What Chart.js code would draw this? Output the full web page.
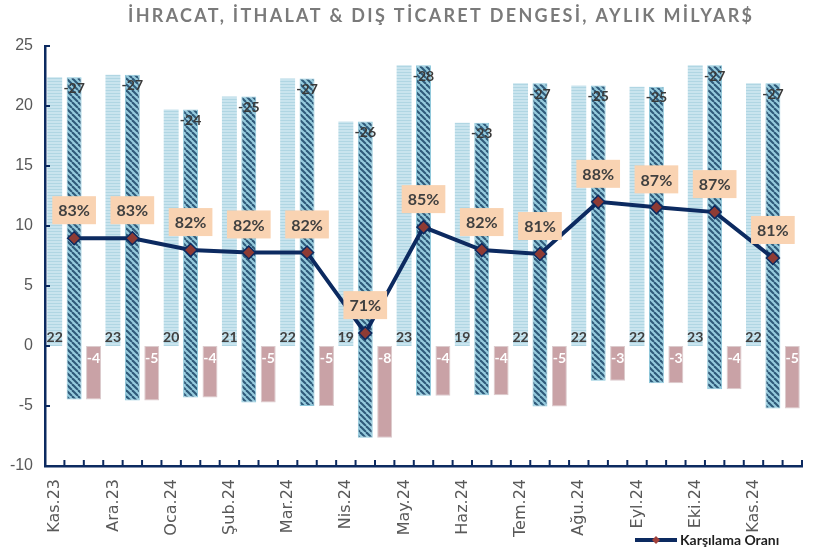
<!DOCTYPE html>
<html lang="tr">
<head>
<meta charset="utf-8">
<script src="https://cdn.jsdelivr.net/npm/chart.js@4/dist/chart.umd.min.js"></script>
<style>
html,body{margin:0;padding:0;background:#fff;}
#wrap{width:817px;height:550px;position:relative;}
</style>
</head>
<body>
<div id="wrap"><canvas id="myChart"></canvas></div>
<script>
// aylar
const months=["Kas.23","Ara.23","Oca.24","Şub.24","Mar.24","Nis.24","May.24","Haz.24","Tem.24","Ağu.24","Eyl.24","Eki.24","Kas.24"];
// milyar $
const exports=[22.4,22.6,19.7,20.8,22.3,18.7,23.4,18.6,21.9,21.7,21.6,23.4,21.9];
const imports=[-26.9,-27.1,-24.0,-25.4,-27.3,-26.3,-27.6,-22.7,-27.0,-24.6,-24.7,-27.0,-27.1];
const balance=[-4.45,-4.55,-4.3,-4.7,-5.0,-7.65,-4.15,-4.1,-5.05,-2.9,-3.1,-3.6,-5.2];
// karşılama oranı %
const ratio=[83.4,83.4,81.9,81.6,81.6,71.4,84.8,81.9,81.4,88.0,87.3,86.7,80.9];
const yTicks=[-10,-5,0,5,10,15,20,25];

const navy="#0c2a60";
const title="İHRACAT, İTHALAT & DIŞ TİCARET DENGESİ, AYLIK MİLYAR$";

function makePattern(size,draw){
    const c=document.createElement("canvas");
    c.width=size;c.height=size;
    const g=c.getContext("2d");
    draw(g,size);
    return g.createPattern(c,"repeat");
}
const tmp=document.createElement("canvas").getContext("2d");
const exportFill=(function(){
    const c=document.createElement("canvas");
    c.width=4;c.height=3;
    const g=c.getContext("2d");
    g.fillStyle="#c9e4ee";g.fillRect(0,0,4,3);
    g.fillStyle="#b0d6e3";g.fillRect(0,0,4,1);
    return tmp.createPattern(c,"repeat");
})();
const importFill=makePattern(6,function(g,s){
    g.fillStyle="#96cbdd";g.fillRect(0,0,s,s);
    g.strokeStyle="#2f5a7a";g.lineWidth=2.1;
    for(let k=-s;k<=s;k+=s){
        g.beginPath();g.moveTo(k,0);g.lineTo(k+s,s);g.stroke();
    }
});

const extras={
    id:"extras",
    afterDatasetsDraw(chart){
        const ctx=chart.ctx,y=chart.scales.y;
        const zero=y.getPixelForValue(0);
        ctx.save();
        ctx.textAlign="center";ctx.textBaseline="middle";
        ctx.font="bold 14px Lato";
        chart.getDatasetMeta(0).data.forEach((bar,i)=>{
            ctx.fillStyle="#404040";
            ctx.fillText(Math.round(exports[i]),bar.x,zero-9);
        });
        chart.getDatasetMeta(1).data.forEach((bar,i)=>{
            ctx.fillStyle="#3a3a3a";
            ctx.fillText(Math.round(imports[i]),bar.x,y.getPixelForValue(exports[i])+11);
        });
        chart.getDatasetMeta(2).data.forEach((bar,i)=>{
            ctx.fillStyle="#ffffff";
            ctx.fillText(Math.round(balance[i]),bar.x,zero+12);
        });
        ctx.font="bold 16px Lato";
        chart.getDatasetMeta(3).data.forEach((pt,i)=>{
            const t=Math.round(ratio[i])+"%";
            const w=ctx.measureText(t).width+12;
            const cy=pt.y-28;
            ctx.fillStyle="#f9d3b2";
            ctx.fillRect(pt.x-w/2,cy-14,w,28);
            ctx.fillStyle="#404040";
            ctx.fillText(t,pt.x,cy+1);
        });
        ctx.restore();
    },
    afterDraw(chart){
        const ctx=chart.ctx,a=chart.chartArea,y=chart.scales.y;
        ctx.save();
        // eksen çentikleri
        ctx.strokeStyle=navy;ctx.lineWidth=2;
        const step=(a.right-a.left)/(months.length*3);
        for(let k=0;k<=months.length*3;k++){
            const x=a.left+k*step;
            ctx.beginPath();ctx.moveTo(x,a.bottom);ctx.lineTo(x,a.bottom-6);ctx.stroke();
        }
        yTicks.forEach(v=>{
            const py=y.getPixelForValue(v);
            ctx.beginPath();ctx.moveTo(a.left,py);ctx.lineTo(a.left+5,py);ctx.stroke();
        });
        // başlık
        ctx.font="bold 18px Lato";
        ctx.fillStyle="#7a7a7a";
        ctx.textBaseline="middle";ctx.textAlign="left";
        const nat=ctx.measureText(title).width;
        const sp=(624-nat)/(title.length-1);
        ctx.letterSpacing=sp+"px";
        ctx.fillText(title,128,16);
        ctx.letterSpacing="0px";
        // lejant
        ctx.strokeStyle=navy;ctx.lineWidth=4;
        ctx.beginPath();ctx.moveTo(635,540);ctx.lineTo(677,540);ctx.stroke();
        ctx.fillStyle="#a0403a";
        ctx.beginPath();ctx.moveTo(656,536);ctx.lineTo(660,540);ctx.lineTo(656,544);ctx.lineTo(652,540);ctx.closePath();ctx.fill();
        ctx.font="bold 14px Lato";ctx.fillStyle="#1f1f1f";
        ctx.fillText("Karşılama Oranı",680,540);
        ctx.restore();
    }
};

let myChart=document.querySelector("#myChart").getContext("2d");
var chart=new Chart(myChart,{
    type:"bar",
    data:{
        labels:months,
        datasets:[
            {
                label:"İhracat",
                data:exports,
                backgroundColor:exportFill,
                categoryPercentage:1,
                barPercentage:0.77,
                order:2
            },
            {
                label:"İthalat",
                data:exports.map((v,i)=>[balance[i],v]),
                backgroundColor:importFill,
                borderColor:"#8ec8db",
                borderWidth:1,
                borderSkipped:false,
                categoryPercentage:1,
                barPercentage:0.77,
                order:2
            },
            {
                label:"Dış Ticaret Dengesi",
                data:balance,
                backgroundColor:"#c9a2a6",
                borderColor:"#dccbcd",
                borderWidth:1,
                borderSkipped:false,
                categoryPercentage:1,
                barPercentage:0.77,
                order:2
            },
            {
                type:"line",
                label:"Karşılama Oranı",
                data:ratio,
                yAxisID:"y2",
                borderColor:navy,
                borderWidth:4,
                tension:0,
                pointStyle:"rectRot",
                pointRadius:6.5,
                pointBackgroundColor:"#8e3b34",
                pointBorderColor:navy,
                pointBorderWidth:1.5,
                order:0
            }
        ]
    },
    options:{
        responsive:true,
        maintainAspectRatio:false,
        animation:false,
        layout:{padding:{top:46,right:15,left:0,bottom:0}},
        plugins:{legend:{display:false},tooltip:{enabled:false}},
        scales:{
            x:{
                grid:{display:false,drawTicks:false},
                border:{color:navy,width:2.5},
                ticks:{
                    autoSkip:false,
                    color:"#595959",
                    font:{family:"'DejaVu Sans', Verdana, sans-serif",size:16},
                    maxRotation:90,
                    minRotation:90,
                    padding:13,
                    labelOffset:-19
                },
                afterFit(s){s.height=84;}
            },
            y:{
                min:-10,
                max:25,
                ticks:{stepSize:5,color:"#595959",font:{family:"'Liberation Sans', Arial, sans-serif",size:16},padding:12},
                grid:{display:false,drawTicks:false},
                border:{color:navy,width:2.5},
                afterFit(s){s.width=45;}
            },
            y2:{display:false,min:54.6,max:107.7}
        }
    },
    plugins:[extras]
});
</script>
</body>
</html>
